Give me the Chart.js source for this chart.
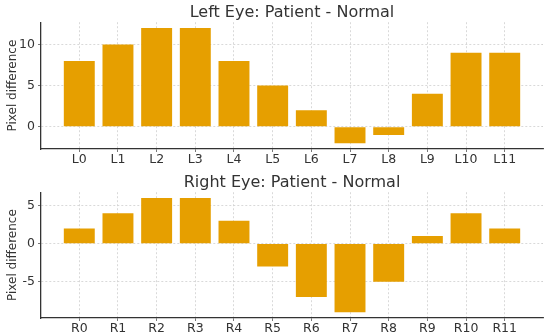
<!DOCTYPE html>
<html>
<head>
<meta charset="utf-8">
<script src="https://cdn.jsdelivr.net/npm/chart.js@4/dist/chart.umd.min.js"></script>
<style>
  html, body { margin: 0; padding: 0; background: #fff; }
  #wrap { position: relative; width: 550px; height: 336px; overflow: hidden; }
  canvas { position: absolute; left: 0; }
</style>
</head>
<body>
<div id="wrap">
  <canvas id="top" width="550" height="168" style="top:0px"></canvas>
  <canvas id="bottom" width="550" height="167" style="top:170px"></canvas>
</div>
<script>
const leftLabels = ['L0','L1','L2','L3','L4','L5','L6','L7','L8','L9','L10','L11'];
const leftValues = [8, 10, 12, 12, 8, 5, 2, -2, -1, 4, 9, 9];
const leftYTicks = [0, 5, 10];

const rightLabels = ['R0','R1','R2','R3','R4','R5','R6','R7','R8','R9','R10','R11'];
const rightValues = [2, 4, 6, 6, 3, -3, -7, -9, -5, 1, 4, 2];
const rightYTicks = [-5, 0, 5];

const leftTitle = 'Left Eye: Patient - Normal';
const rightTitle = 'Right Eye: Patient - Normal';
const yAxisTitle = 'Pixel difference';

Chart.defaults.font.family = '"DejaVu Sans", sans-serif';
Chart.defaults.color = '#333333';

function makeChart(id, title, labels, values, yTicks) {
  const lo = Math.min(0, ...values), hi = Math.max(0, ...values);
  const m = (hi - lo) * 0.05;
  const xlo = -0.4, xhi = labels.length - 1 + 0.4, xm = (xhi - xlo) * 0.05;
  const gridOpts = {
    color: '#d0d0d0',
    lineWidth: 0.8,
    offset: false,
    drawTicks: true,
    tickLength: 3,
    tickColor: '#555555',
    tickWidth: 0.8
  };
  return new Chart(document.getElementById(id), {
    type: 'bar',
    data: {
      datasets: [{
        data: values.map((v, i) => ({ x: i, y: v })),
        backgroundColor: '#E69F00',
        borderWidth: 0,
        categoryPercentage: 1,
        barPercentage: 0.8
      }]
    },
    options: {
      responsive: false,
      animation: false,
      events: [],
      layout: { padding: { left: 0, right: 7, top: 0, bottom: 0 } },
      plugins: {
        legend: { display: false },
        tooltip: { enabled: false },
        title: {
          display: true,
          text: title,
          fullSize: false,
          color: '#333333',
          font: { size: 16, weight: 'normal', lineHeight: 1.2 },
          padding: { top: 3, bottom: 0 }
        }
      },
      scales: {
        x: {
          type: 'linear',
          min: xlo - xm,
          max: xhi + xm,
          offset: false,
          afterBuildTicks: (s) => { s.ticks = labels.map((_, i) => ({ value: i })); },
          afterFit: (s) => { s.height = 19; },
          ticks: {
            autoSkip: false,
            maxRotation: 0,
            padding: 0,
            color: '#333333',
            font: { size: 12.5 },
            callback: (v) => labels[v]
          },
          grid: gridOpts,
          border: { display: true, color: '#333333', width: 1.3, dash: [2, 2] }
        },
        y: {
          min: lo - m,
          max: hi + m,
          afterBuildTicks: (s) => { s.ticks = yTicks.map(v => ({ value: v })); },
          afterFit: (s) => { s.width = 41; },
          ticks: {
            padding: 3,
            color: '#333333',
            font: { size: 12.5 }
          },
          grid: gridOpts,
          border: { display: true, color: '#333333', width: 1.3, dash: [2, 2] },
          title: {
            display: true,
            text: yAxisTitle,
            color: '#333333',
            font: { size: 12 },
            padding: { top: 6, bottom: 0 }
          }
        }
      }
    }
  });
}

makeChart('top', leftTitle, leftLabels, leftValues, leftYTicks);
makeChart('bottom', rightTitle, rightLabels, rightValues, rightYTicks);
</script>
</body>
</html>
